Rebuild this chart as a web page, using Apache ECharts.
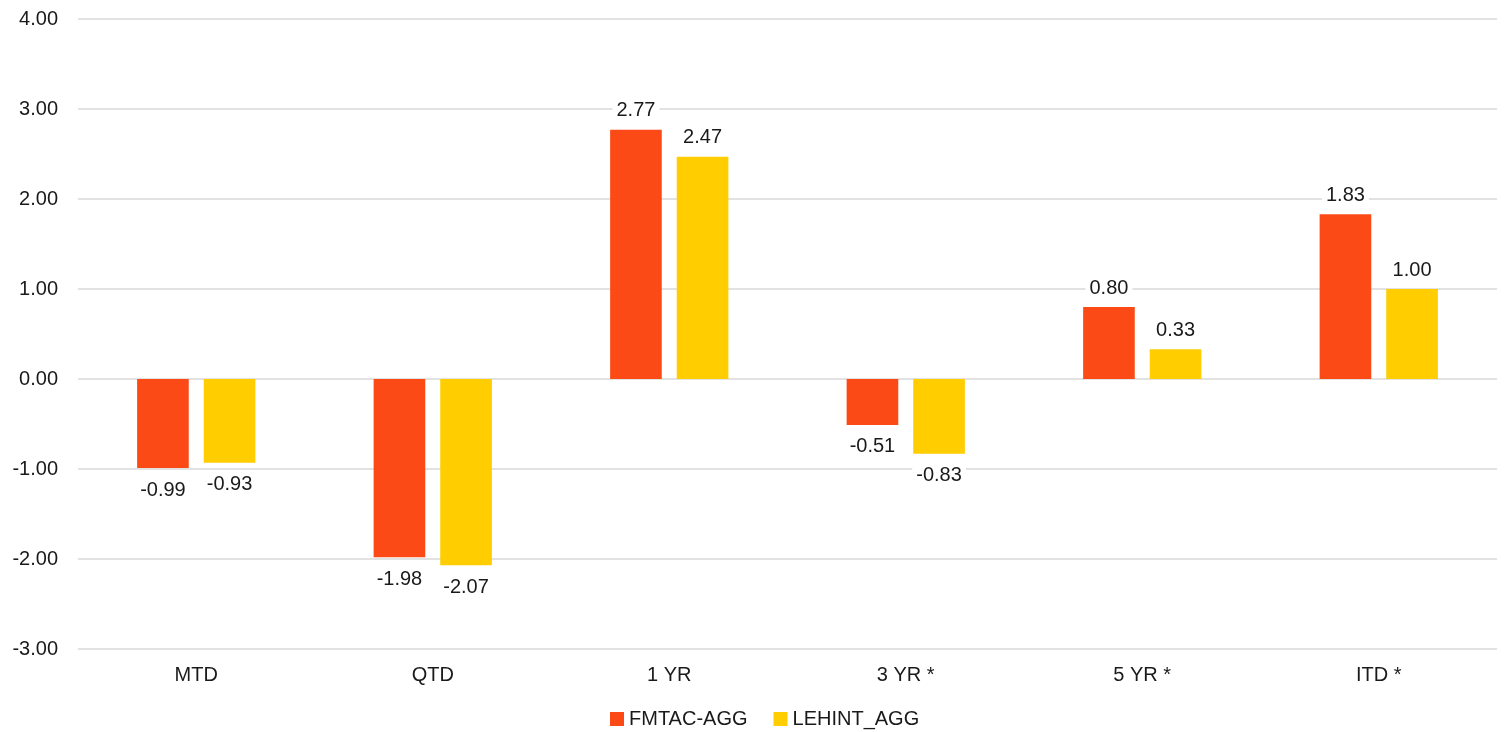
<!DOCTYPE html>
<html><head><meta charset="utf-8">
<script src="https://cdn.jsdelivr.net/npm/echarts@6/dist/echarts.min.js"></script>
<style>html,body{margin:0;padding:0;background:#fff}#c{width:1506px;height:732px}</style>
</head><body><div id="c"></div>
<script>
const categories = ['MTD', 'QTD', '1 YR', '3 YR *', '5 YR *', 'ITD *'];
const fmtac = [-0.99, -1.98, 2.77, -0.51, 0.80, 1.83];
const lehint = [-0.93, -2.07, 2.47, -0.83, 0.33, 1.00];
const seriesNames = ['FMTAC-AGG', 'LEHINT_AGG'];
const colors = ['#FC4A16', '#FFCD00'];
const font = 'Liberation Sans, Arial, sans-serif';

function items(arr) {
  return arr.map(v => ({
    value: v,
    label: { position: v < 0 ? 'bottom' : 'top', distance: v < 0 ? 11 : 8 }
  }));
}
const labelStyle = {
  show: true, fontSize: 20, color: '#1a1a1a', fontFamily: font,
  backgroundColor: '#ffffff', padding: [1, 4, 1, 4],
  formatter: p => p.value.toFixed(2)
};
const chart = echarts.init(document.getElementById('c'));
chart.setOption({
  animation: false,
  textStyle: { fontFamily: font },
  grid: { left: 78, right: 9, top: 19, bottom: 83, containLabel: false },
  legend: {
    bottom: -2, left: 605, itemWidth: 14, itemHeight: 14, itemGap: 26,
    icon: 'rect',
    textStyle: { fontSize: 20, color: '#1a1a1a', fontFamily: font },
    data: seriesNames
  },
  xAxis: {
    type: 'category', data: categories,
    axisLine: { show: false }, axisTick: { show: false },
    axisLabel: { fontSize: 20, color: '#1a1a1a', margin: 16, fontFamily: font }
  },
  yAxis: {
    type: 'value', min: -3, max: 4, interval: 1,
    axisLine: { show: false }, axisTick: { show: false },
    axisLabel: { fontSize: 20, color: '#1a1a1a', margin: 20, fontFamily: font, formatter: v => v.toFixed(2) },
    splitLine: { lineStyle: { color: '#d9d9d9', width: 1.5 } }
  },
  series: [
    { name: seriesNames[0], type: 'bar', data: items(fmtac), itemStyle: { color: colors[0] },
      barGap: '29%', barCategoryGap: '50%', label: labelStyle },
    { name: seriesNames[1], type: 'bar', data: items(lehint), itemStyle: { color: colors[1] },
      barGap: '29%', barCategoryGap: '50%', label: labelStyle }
  ]
});
</script></body></html>
